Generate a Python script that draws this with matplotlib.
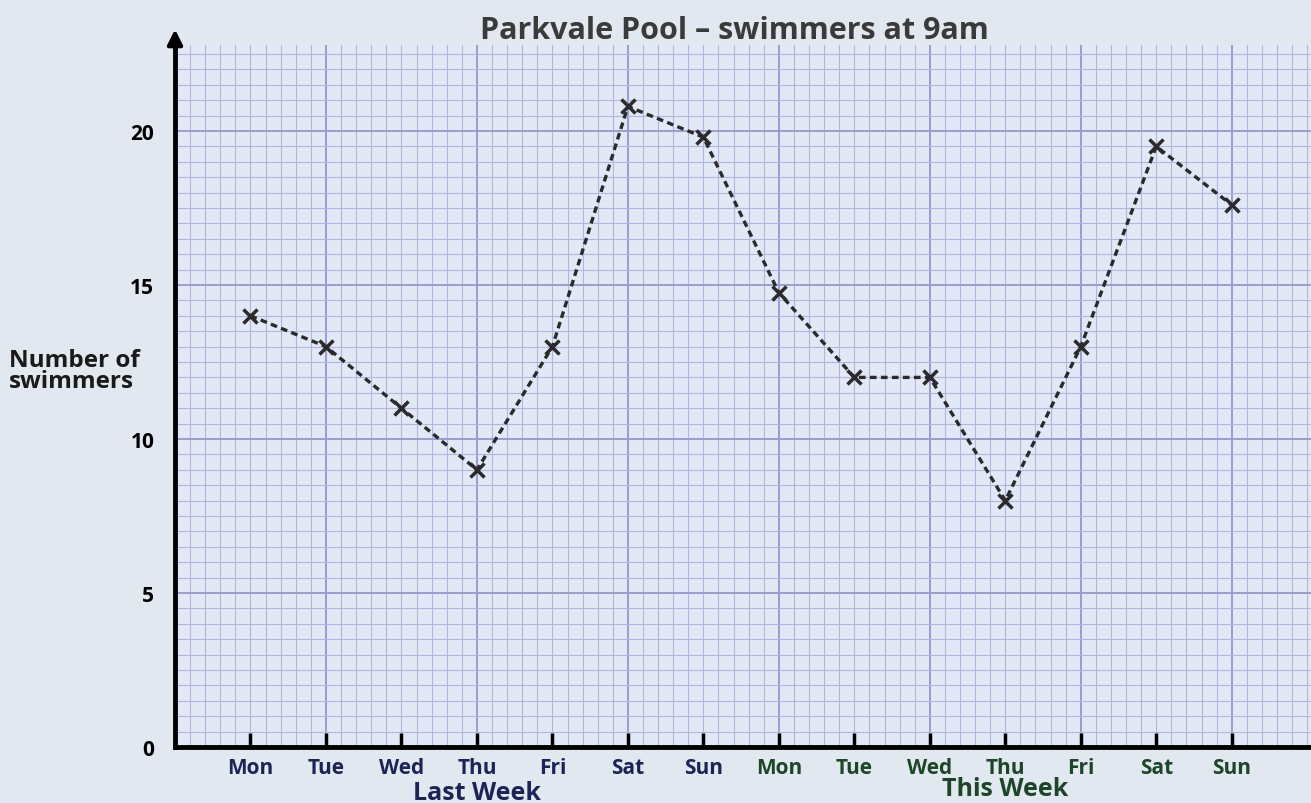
import numpy as np
import matplotlib
matplotlib.use('Agg')
import matplotlib.pyplot as plt
from matplotlib import transforms

# data
days = ['Mon', 'Tue', 'Wed', 'Thu', 'Fri', 'Sat', 'Sun',
        'Mon', 'Tue', 'Wed', 'Thu', 'Fri', 'Sat', 'Sun']
swimmers = [14, 13, 11, 9, 13, 20.8, 19.8,
            14.75, 12, 12, 8, 13, 19.5, 17.6]
week_names = ['Last Week', 'This Week']
week_colors = ['#1c2456', '#1d4527']

plt.rcParams['font.family'] = ['Open Sans', 'DejaVu Sans']
plt.rcParams['font.weight'] = 'bold'

fig = plt.figure(figsize=(13.11, 8.04), dpi=100)
fig.patch.set_facecolor('#e2e8f0')
ax = fig.add_axes([0.1335, 0.0697, 0.8665, 0.8733])
ax.set_facecolor('#e1e8f6')

xpos = np.arange(1, len(days) + 1)
ax.set_xlim(0, 15.05)
ax.set_ylim(0, 22.8)

# graph paper: small squares 0.2 day x 0.5 swimmer, darker every 10 squares
for gx in np.arange(0.2, 15.2, 0.2):
    major = abs(gx / 2 - round(gx / 2)) < 1e-6
    ax.axvline(gx, color='#9e9bcf' if major else '#b6b4dc',
               lw=1.4 if major else 0.8, zorder=1)
for gy in np.arange(0.5, 23.0, 0.5):
    major = abs(gy / 5 - round(gy / 5)) < 1e-6
    ax.axhline(gy, color='#9e9bcf' if major else '#b6b4dc',
               lw=1.4 if major else 0.8, zorder=1)

ax.plot(xpos, swimmers, linestyle=(0, (2.0, 1.3)), lw=2.4, color='#2a2a2a',
        marker='x', markersize=10, mew=2.5, zorder=3)

for s in ['top', 'right']:
    ax.spines[s].set_visible(False)
ax.spines['left'].set_linewidth(3.5)
ax.spines['bottom'].set_linewidth(3.5)
ax.annotate('', xy=(0, 1.026), xytext=(0, 0.99), xycoords='axes fraction',
            arrowprops=dict(arrowstyle='-|>', lw=3, color='black', mutation_scale=22))

ax.set_yticks([0, 5, 10, 15, 20])
ax.tick_params(axis='y', length=0, pad=15, labelsize=15)
for lab in ax.get_yticklabels():
    lab.set_fontweight('bold')

ax.set_xticks(xpos)
ax.set_xticklabels(days)
ax.tick_params(axis='x', direction='in', length=10, width=2.5, pad=7, labelsize=15)
for i, lab in enumerate(ax.get_xticklabels()):
    lab.set_color(week_colors[i // 7])
    lab.set_fontweight('bold')

trans = transforms.blended_transform_factory(ax.transData, ax.transAxes)
ax.text(4, -0.065, week_names[0], transform=trans, ha='center', va='center',
        fontsize=18, fontweight='bold', color=week_colors[0])
ax.text(11, -0.059, week_names[1], transform=trans, ha='center', va='center',
        fontsize=18, fontweight='bold', color=week_colors[1])

fig.text(0.007, 0.538, 'Number of\nswimmers', ha='left', va='center',
         fontsize=17.5, fontweight='bold', color='#1a1a1a', linespacing=0.85)
fig.text(0.56, 0.962, 'Parkvale Pool \u2013 swimmers at 9am', ha='center', va='center',
         fontsize=22, fontweight='bold', color='#3a3a3a')

plt.savefig('out.png', dpi=100, facecolor=fig.get_facecolor())
plt.close()
